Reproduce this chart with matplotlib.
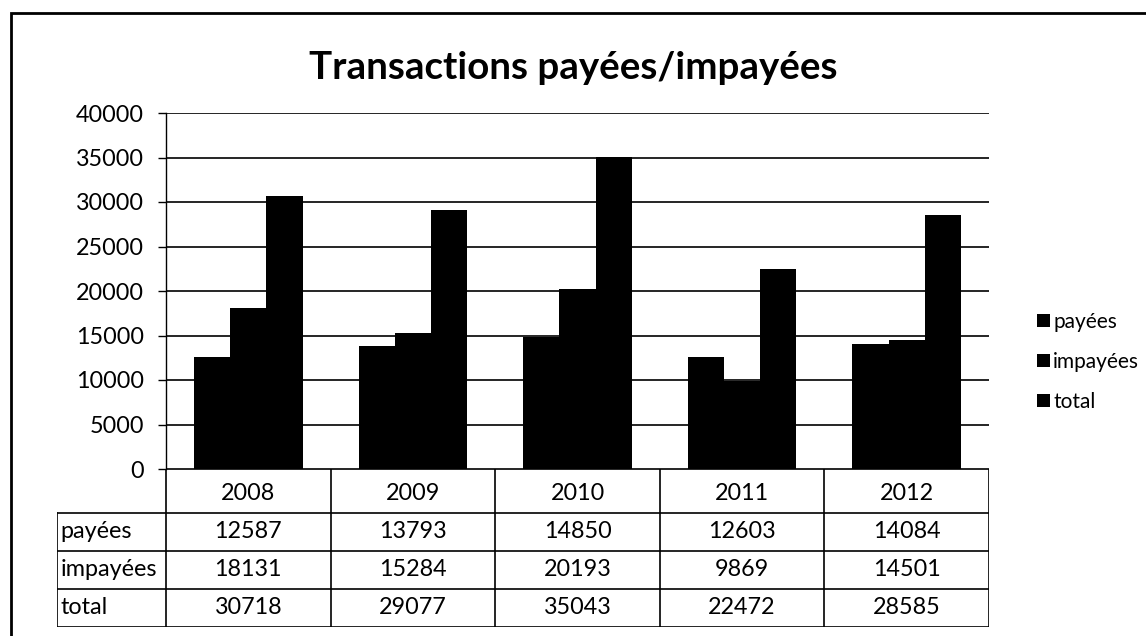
import matplotlib.pyplot as plt
import numpy as np
from matplotlib.patches import Rectangle

years = ["2008", "2009", "2010", "2011", "2012"]
series = ["payées", "impayées", "total"]
payees = [12587, 13793, 14850, 12603, 14084]
impayees = [18131, 15284, 20193, 9869, 14501]
total = [30718, 29077, 35043, 22472, 28585]
y_ticks = [0, 5000, 10000, 15000, 20000, 25000, 30000, 35000, 40000]

W, H = 1146, 636
FS = 16.8
plt.rcParams['font.family'] = ['Lato', 'DejaVu Sans']


def fx(px):
    return px / W


def fy(py):
    return 1 - py / H


fig = plt.figure(figsize=(W / 100, H / 100), dpi=100)

# outer frame of the chart object (runs off the right and bottom edges)
fig.patches.append(Rectangle((fx(11), fy(700)), fx(1200) - fx(11), fy(13) - fy(700),
                             transform=fig.transFigure, fill=False,
                             edgecolor='black', linewidth=2))

fig.text(fx(573), fy(68), "Transactions payées/impayées", ha='center', va='center',
         fontsize=27.7, fontweight='bold')

# bar chart
left, right, top, bottom = 166, 989, 113, 469
ax = fig.add_axes([fx(left), fy(bottom), fx(right) - fx(left), fy(top) - fy(bottom)])
x = np.arange(len(years))
width = 0.22
values = [payees, impayees, total]
for i, (name, vals) in enumerate(zip(series, values)):
    ax.bar(x + (i - 1) * width, vals, width=width, color='black', label=name, zorder=3)

ax.set_xlim(-0.5, len(years) - 0.5)
ax.set_ylim(0, 40000)
ax.set_yticks(y_ticks)
ax.set_yticklabels([str(v) for v in y_ticks], fontsize=FS)
ax.tick_params(axis='y', length=6, width=1, pad=10)
ax.set_xticks([])
ax.grid(axis='y', color='black', linewidth=1.2, zorder=0)
for s in ['top', 'right', 'bottom']:
    ax.spines[s].set_visible(False)
ax.spines['left'].set_linewidth(1)

# data table under the chart
t_left, t_bottom = 57, 627
col_w = (right - left) / len(years)
tax = fig.add_axes([fx(t_left), fy(t_bottom), fx(right) - fx(t_left), fy(bottom) - fy(t_bottom)])
x0 = -0.5 - (left - t_left) / col_w
tax.set_xlim(x0, len(years) - 0.5)
row_edges = [0, 44, 82, 120, 158]
tax.set_ylim(row_edges[-1], 0)
tax.axis('off')

lw = 1.2
tax.plot([-0.5, len(years) - 0.5], [0, 0], color='black', lw=lw)
for yy in row_edges[1:]:
    tax.plot([x0, len(years) - 0.5], [yy, yy], color='black', lw=lw)
tax.plot([x0, x0], [row_edges[1], row_edges[-1]], color='black', lw=lw)
for k in range(len(years) + 1):
    tax.plot([k - 0.5, k - 0.5], [0, row_edges[-1]], color='black', lw=lw)

for j, yr in enumerate(years):
    tax.text(j, (row_edges[0] + row_edges[1]) / 2 + 2, yr, ha='center', va='center', fontsize=FS)
for r, (name, vals) in enumerate(zip(series, values)):
    yc = (row_edges[r + 1] + row_edges[r + 2]) / 2
    tax.text(x0 + 0.02, yc, name, ha='left', va='center', fontsize=FS)
    for j, v in enumerate(vals):
        tax.text(j, yc, str(v), ha='center', va='center', fontsize=FS)

fig.legend(loc='center left', bbox_to_anchor=(fx(1027), fy(362)), frameon=False,
           fontsize=15, handlelength=0.6, handleheight=0.6, handletextpad=0.15,
           labelspacing=0.95, borderpad=0)

fig.savefig("out.png", dpi=100)
